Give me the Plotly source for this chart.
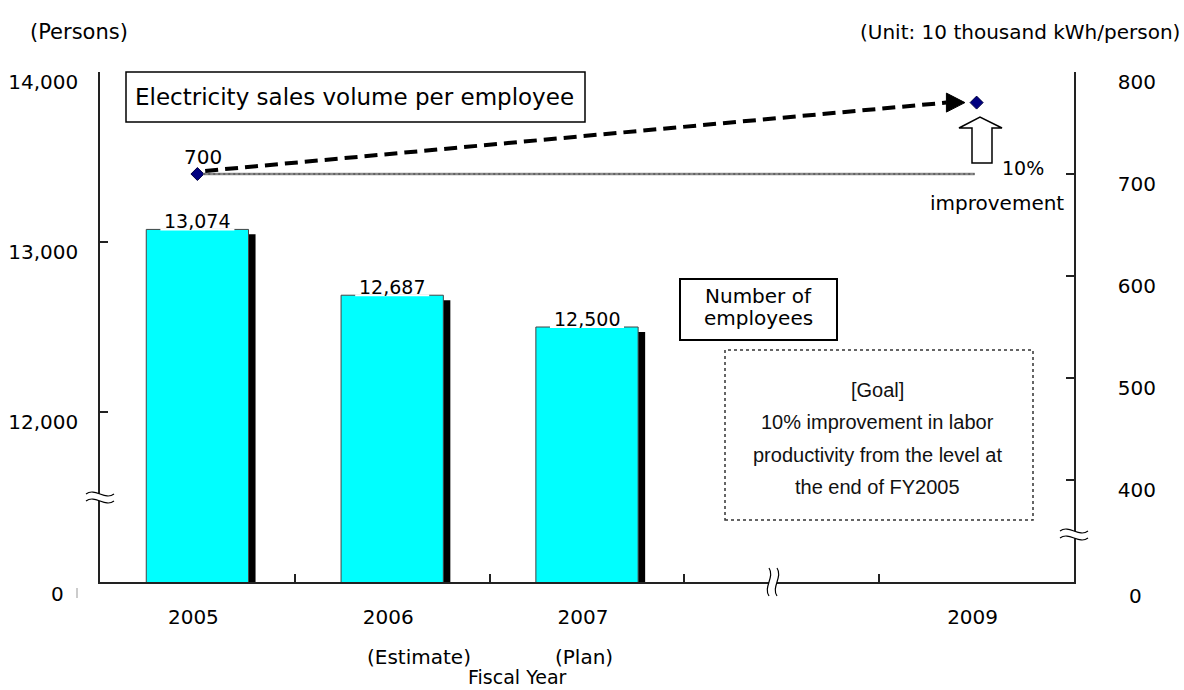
import plotly.graph_objects as go

# ---- data -------------------------------------------------------------
bar_years = [2005, 2006, 2007]
employees = [13074, 12687, 12500]

point_years = [2005, 2009]
sales_per_employee = [700, 770]

year_ticks = [2005, 2006, 2007, 2009]
year_labels = ["2005", "2006", "2007", "2009"]
year_notes = [(2006, "(Estimate)"), (2007, "(Plan)")]

left_ticks = [12000, 13000, 14000]
right_ticks = [400, 500, 600, 700, 800]
left_range = [11000, 14000]    # bottom of the broken axis is labelled 0
right_range = [300, 800]

# ---- page / plot frame (pixels) ----------------------------------------
W, H = 1184, 690
L, R, T, B = 100, 1074, 72, 582

FONT = "DejaVu Sans"
NARROW = "Liberation Sans"


def px(x):
    return (x - L) / (R - L)


def py(y):
    return (B - y) / (B - T)


def path(segments, close=False):
    """Build an SVG path in paper units; every point gets its own command."""
    s = []
    for cmd, pts in segments:
        if cmd == "C":
            s.append("C" + " ".join(f"{px(a):.5f},{py(b):.5f}" for a, b in pts))
        else:
            for a, b in pts:
                s.append(f"{cmd}{px(a):.5f},{py(b):.5f}")
                cmd = "L" if cmd == "M" else cmd
    return " ".join(s) + (" Z" if close else "")


def text(x, y, label, size=20, family=FONT, xanchor="center", color="black", **kw):
    return dict(x=px(x), y=py(y), xref="paper", yref="paper", text=label,
                showarrow=False, xanchor=xanchor, yanchor="middle",
                font=dict(family=family, size=size, color=color), **kw)


fig = go.Figure()

# bar shadows, then the bars themselves
fig.add_trace(go.Bar(
    x=[y + 0.036 for y in bar_years], y=[v - 29 for v in employees],
    width=0.525, marker=dict(color="black", line=dict(width=0)),
    hoverinfo="skip", showlegend=False,
))
fig.add_trace(go.Bar(
    x=bar_years, y=employees, width=0.525,
    marker=dict(color="#00FFFF", line=dict(color="#444444", width=1)),
    showlegend=False, name="Number of employees",
))

# sales volume per employee
fig.add_trace(go.Scatter(
    x=point_years, y=sales_per_employee, yaxis="y2", mode="markers",
    marker=dict(symbol="diamond", size=10, color="#000080",
                line=dict(color="#000040", width=1)),
    showlegend=False, name="Electricity sales volume per employee",
))

shapes = []
annotations = []

# bar value labels sitting on the bar tops
for yr, v in zip(bar_years, employees):
    shapes.append(dict(type="line", xref="x", yref="y", x0=yr - 0.19, x1=yr + 0.19,
                       y0=v, y1=v, line=dict(color="white", width=2), layer="above"))
    annotations.append(dict(x=yr, y=v, xref="x", yref="y", text=f"{v:,}",
                            showarrow=False, xanchor="center", yanchor="bottom", yshift=-5,
                            font=dict(family=FONT, size=19, color="black")))

# 2005 level reference line
base, target = sales_per_employee
shapes.append(dict(type="line", xref="x", yref="y2", x0=2005.03, x1=2008.99,
                   y0=base, y1=base, line=dict(color="#8a8a8a", width=2.5)))
shapes.append(dict(type="line", xref="x", yref="y2", x0=2005.03, x1=2008.99,
                   y0=base, y1=base, line=dict(color="#555555", width=1.5, dash="2px,3px")))

# dashed trend arrow from 2005 to the 2009 target
shapes.append(dict(type="line", xref="x", yref="y2", x0=2005.04, y0=base + 3,
                   x1=2009 - 0.155, y1=target,
                   line=dict(color="black", width=4, dash="13px,7px")))
shapes.append(dict(type="path", xref="x", yref="y2",
                   path=(f"M{2009 - 0.06},{target} L{2009 - 0.155},{target + 9.3} "
                         f"L{2009 - 0.155},{target - 9.3} Z"),
                   fillcolor="black", line=dict(color="black", width=1)))

annotations.append(dict(x=2005, y=base, xref="x", yref="y2", text=f"{base}",
                        showarrow=False, xanchor="center", yanchor="middle",
                        xshift=6, yshift=17,
                        font=dict(family=FONT, size=20, color="black")))

# hollow "improvement" arrow
shapes.append(dict(type="path", xref="paper", yref="paper",
                   path=path([("M", [(972, 163)]),
                              ("L", [(972, 128), (959, 128), (980, 117),
                                     (1002, 128), (992, 128), (992, 163)])],
                             close=True),
                   fillcolor="white", line=dict(color="black", width=1.5)))
annotations.append(text(1023, 168, "10%", size=19))
annotations.append(text(997, 203, "improvement"))

# labelled boxes
shapes.append(dict(type="rect", xref="paper", yref="paper", x0=px(126), x1=px(585),
                   y0=py(122), y1=py(72), fillcolor="white",
                   line=dict(color="black", width=1.5), layer="below"))
annotations.append(text(354, 97, "Electricity sales volume per employee", size=23))

shapes.append(dict(type="rect", xref="paper", yref="paper", x0=px(680), x1=px(837),
                   y0=py(340), y1=py(279), fillcolor="white",
                   line=dict(color="black", width=2)))
annotations.append(text(758, 296, "Number of"))
annotations.append(text(758, 318, "employees"))

# goal box
shapes.append(dict(type="rect", xref="paper", yref="paper", x0=px(725), x1=px(1033),
                   y0=py(520), y1=py(350), fillcolor="white",
                   line=dict(color="#333333", width=1.5, dash="dot")))
goal_lines = ["[Goal]", "10% improvement in labor",
              "productivity from the level at", "the end of FY2005"]
for i, line in enumerate(goal_lines):
    annotations.append(text(877, 390 + 32.3 * i, line, family=NARROW, color="#111111"))


# axis breaks
def h_break(cx, cy):
    shapes.append(dict(type="path", xref="paper", yref="paper",
                       path=path([("M", [(cx - 14, cy - 3)]),
                                  ("C", [(cx - 5, cy - 10), (cx + 5, cy + 4), (cx + 14, cy - 3)]),
                                  ("L", [(cx + 14, cy + 4)]),
                                  ("C", [(cx + 5, cy + 11), (cx - 5, cy - 3), (cx - 14, cy + 4)])],
                                 close=True),
                       fillcolor="white", line=dict(width=0)))
    for dy in (-3, 4):
        shapes.append(dict(type="path", xref="paper", yref="paper",
                           path=path([("M", [(cx - 14, cy + dy)]),
                                      ("C", [(cx - 5, cy + dy - 7), (cx + 5, cy + dy + 7),
                                             (cx + 14, cy + dy)])]),
                           line=dict(color="black", width=1.2)))


def v_break(cx, cy):
    shapes.append(dict(type="rect", xref="paper", yref="paper", x0=px(cx - 4), x1=px(cx + 4),
                       y0=py(cy + 3), y1=py(cy - 3), fillcolor="white", line=dict(width=0)))
    for dx in (-4, 4):
        shapes.append(dict(type="path", xref="paper", yref="paper",
                           path=path([("M", [(cx + dx, cy - 14)]),
                                      ("C", [(cx + dx + 6, cy - 5), (cx + dx - 6, cy + 5),
                                             (cx + dx, cy + 14)])]),
                           line=dict(color="black", width=1.2)))


h_break(100, 497)
h_break(1074, 534)
v_break(773, 582)

# zero labels at the bottom of the broken axes
annotations.append(text(57, 594, "0"))
annotations.append(text(1135, 596, "0"))
shapes.append(dict(type="line", xref="paper", yref="paper", x0=px(77), x1=px(77),
                   y0=py(598), y1=py(588), line=dict(color="#999999", width=1)))

# category notes and axis captions
for yr, note in year_notes:
    annotations.append(dict(x=yr, y=py(657), xref="x", yref="paper", text=note,
                            showarrow=False, xanchor="left", yanchor="middle",
                            xshift=-27 if yr == 2006 else -34,
                            font=dict(family=FONT, size=20, color="black")))
annotations.append(text(517, 677, "Fiscal Year", size=19))
annotations.append(text(79, 32, "(Persons)", size=21))
annotations.append(text(1182, 32, "(Unit: 10 thousand kWh/person)", xanchor="right"))

axis_line = dict(showline=True, linecolor="#222222", linewidth=1.5, showgrid=False,
                 zeroline=False, automargin=False)

fig.update_layout(
    width=W, height=H,
    margin=dict(l=L, r=W - R, t=T, b=H - B, autoexpand=False),
    paper_bgcolor="white", plot_bgcolor="white",
    barmode="overlay", showlegend=False,
    xaxis=dict(
        range=[2004.5, 2009.5], tickvals=year_ticks, ticktext=year_labels,
        ticks="", ticklabelstandoff=16, ticklabelshift=-4,
        tickfont=dict(family=FONT, size=20, color="black"),
        minor=dict(tickvals=[2005.5, 2006.5, 2007.5, 2008.5], ticks="inside",
                   ticklen=8, tickwidth=1.5, tickcolor="#222222", showgrid=False),
        **axis_line,
    ),
    yaxis=dict(
        range=left_range, tickvals=left_ticks, ticktext=[f"{v:,}" for v in left_ticks],
        ticks="inside", ticklen=8, tickwidth=1.5, tickcolor="#222222",
        ticklabelshift=10, ticklabelstandoff=16,
        tickfont=dict(family=FONT, size=20, color="black"),
        **axis_line,
    ),
    yaxis2=dict(
        range=right_range, tickvals=right_ticks, ticktext=[str(v) for v in right_ticks],
        overlaying="y", side="right",
        ticks="inside", ticklen=8, tickwidth=1.5, tickcolor="#222222",
        ticklabelshift=10, ticklabelstandoff=38,
        tickfont=dict(family=FONT, size=20, color="black"),
        **axis_line,
    ),
    shapes=shapes,
    annotations=annotations,
)

fig.write_html("out.html")
